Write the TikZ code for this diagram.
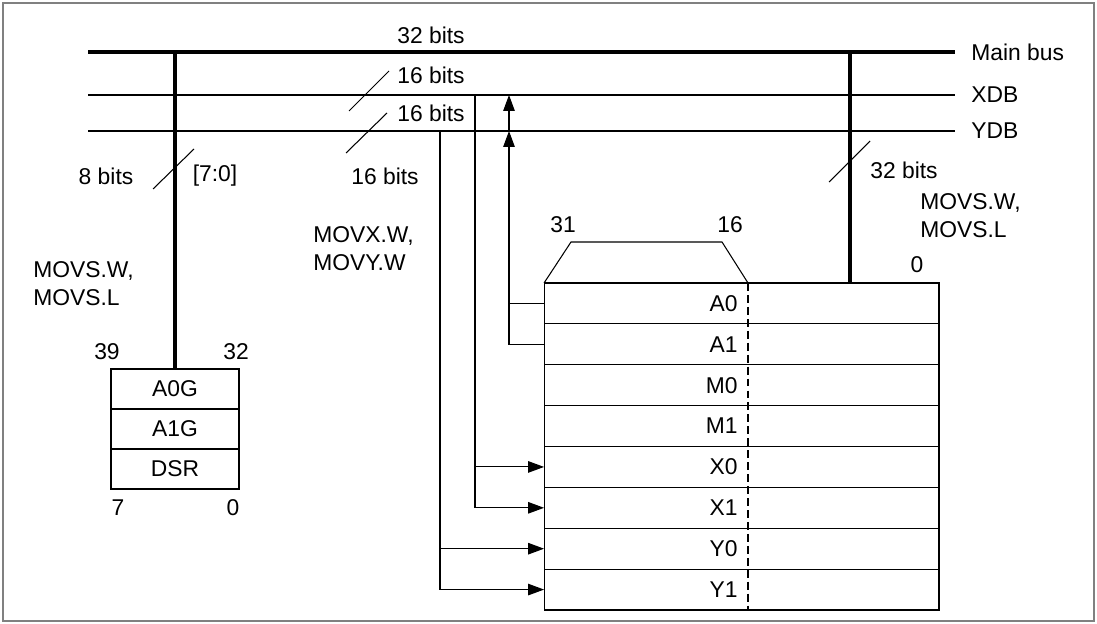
\documentclass[tikz,border=0pt]{standalone}
\usepackage{fontspec}
\setmainfont{Liberation Sans}
\usetikzlibrary{arrows.meta}
\begin{document}
\begin{tikzpicture}[x=0.02cm, y=-0.02cm, font=\fontsize{13}{15.9}\selectfont,
    txt/.style={inner sep=0pt},
    thinline/.style={line width=0.6pt},
    busline/.style={line width=2pt},
    regrow/.style={draw, thinline, minimum width=7.9cm, minimum height=0.8175cm, inner sep=0pt, outer sep=0pt},
    guardrow/.style={draw, thinline, minimum width=2.56cm, minimum height=0.8cm, inner sep=0pt, outer sep=0pt},
    reglabel/.style={anchor=east, inner sep=2pt},
    arr/.style={thinline, -{Triangle[length=9pt, width=6.5pt]}}]
    \useasboundingbox (0,0) rectangle (1097,624);
    \draw[gray, line width=1.1pt] (3,3) rectangle (1094,621); % frame
    \def\busL{88}
    \def\busR{955}
    \def\regTop{283}
    \def\rowH{40.875}
    % buses
    \foreach \Y/\N/\W in {52/Main bus/busline, 95/XDB/thinline, 131/YDB/thinline}
        {
        \draw[\W] (\busL,\Y) -- (\busR,\Y);
        \node[txt, anchor=west] at (971,\Y) {\N};
        }
    \coordinate (mainL) at (175,52);
    \coordinate (mainR) at (850,52);
    \coordinate (xdbX) at (475,95);
    \coordinate (xdbA) at (509,95);
    \coordinate (ydbY) at (440,131);
    \coordinate (ydbA) at (509,131);
    % register file
    \foreach \R [count=\i from 0] in {A0,A1,M0,M1,X0,X1,Y0,Y1}
        {
        \node[regrow] (\R) at (741.5, {\regTop + \rowH * (\i + 0.5)}) {};
        \node[reglabel] at (\R.center) {\R};
        }
    \coordinate (cut) at (748,\regTop);
    \draw[thinline, dash pattern=on 4.5pt off 2.3pt] (cut) -- (cut |- Y1.south);
    \draw[thinline] (A0.north west) -- (571,242) -- (722,242) -- (cut); % 31..16 field
    \node[txt] (b31) at (563,225) {31};
    \node[txt] (b16) at (730,225) {16};
    \node[txt] (b0) at (917,265) {0};
    % guard bits
    \foreach \G [count=\i from 0] in {A0G,A1G,DSR}
        \node[guardrow] (\G) at (175, {369 + 40 * (\i + 0.5)}) {\G};
    \node[txt] (g39) at (107,352) {39};
    \node[txt] (g32) at (236,352) {32};
    \node[txt] (g7) at (118,508) {7};
    \node[txt] (g0) at (233,508) {0};
    % bus taps
    \draw[busline] (mainL) -- (A0G.north);
    \draw[busline] (mainR) -- (mainR |- A0.north);
    \foreach \R in {X0,X1}
        \draw[arr] (xdbX) |- (\R.west);
    \foreach \R in {Y0,Y1}
        \draw[arr] (ydbY) |- (\R.west);
    \draw[thinline] (A0.west) -- (A0.west -| ydbA);
    \draw[arr] (A1.west) -| (ydbA);
    \draw[arr] (ydbA) -- (xdbA);
    % widths
    \draw[thinline] (349,111) -- (389,71);
    \draw[thinline] (346,153) -- (387,113);
    \draw[thinline] (153,189) -- (194,149);
    \draw[thinline] (829,182) -- (870,141);
    \node[txt] (w32) at (431,35) {32 bits};
    \node[txt] (wx) at (431,75) {16 bits};
    \node[txt] (wy) at (431,113) {16 bits};
    \node[txt] (w8) at (106,176) {8 bits};
    \node[txt] (w70) at (215,176) {[7:0]};
    \node[txt] (wxy) at (385,176) {16 bits};
    \node[txt] (wr) at (904,170) {32 bits};
    % instructions
    \node[txt, anchor=west, align=left] (movsR) at (920,216) {MOVS.W,\\MOVS.L};
    \node[txt, anchor=west, align=left] (movxy) at (313,249) {MOVX.W,\\MOVY.W};
    \node[txt, anchor=west, align=left] (movsL) at (33,284) {MOVS.W,\\MOVS.L};
\end{tikzpicture}
\end{document}
